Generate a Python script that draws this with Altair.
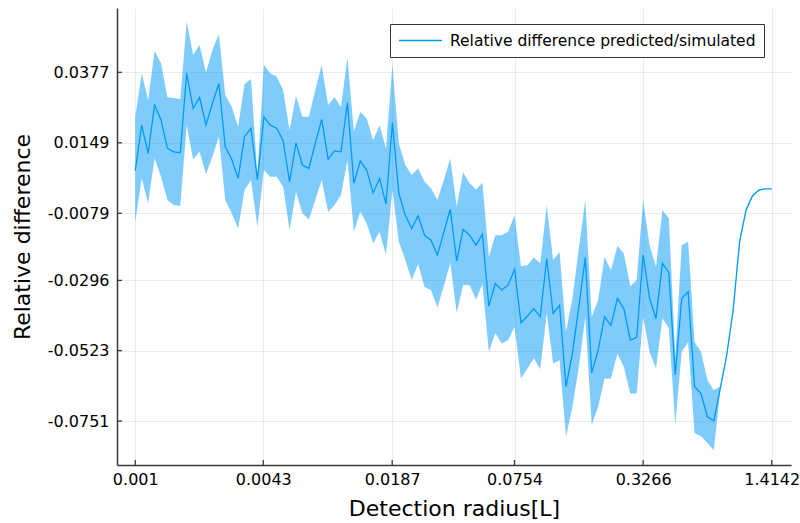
import altair as alt
import numpy as np
import pandas as pd

FONT = "DejaVu Sans"
BLUE = "#009AFA"
AXIS_COLOR = "#3a3a3a"
SERIES = "Relative difference predicted/simulated"

x_ticks = [0.001, 0.0043, 0.0187, 0.0754, 0.3266, 1.4142]
y_ticks = [0.0377, 0.0149, -0.0079, -0.0296, -0.0523, -0.0751]

mean = [
    0.0059, 0.0206, 0.0115, 0.0271, 0.0223, 0.0131, 0.0120, 0.0117, 0.0374, 0.0260,
    0.0296, 0.0206, 0.0277, 0.0341, 0.0136, 0.0096, 0.0034, 0.0169, 0.0196, 0.0029,
    0.0233, 0.0206, 0.0196, 0.0156, 0.0023, 0.0149, 0.0077, 0.0066, 0.0147, 0.0225,
    0.0096, 0.0123, 0.0120, 0.0279, 0.0018, 0.0090, 0.0061, -0.0013, 0.0034, -0.0049,
    0.0214, -0.0015, -0.0085, -0.0128, -0.0087, -0.0150, -0.0166, -0.0214, -0.0140, -0.0066,
    -0.0233, -0.0131, -0.0150, -0.0182, -0.0147, -0.0379, -0.0306, -0.0327, -0.0311, -0.0260,
    -0.0433, -0.0412, -0.0387, -0.0414, -0.0225, -0.0403, -0.0376, -0.0640, -0.0532, -0.0381,
    -0.0222, -0.0595, -0.0522, -0.0414, -0.0441, -0.0354, -0.0387, -0.0489, -0.0480, -0.0214,
    -0.0354, -0.0419, -0.0241, -0.0271, -0.0602, -0.0354, -0.0333, -0.0640, -0.0662, -0.0737,
    -0.0750, -0.0645, -0.0538, -0.0392, -0.0172, -0.0069, -0.0023, -0.0004, 0.0, 0.0,
]

upper = [
    0.0233, 0.0374, 0.0287, 0.0446, 0.0406, 0.0296, 0.0294, 0.0290, 0.0541, 0.0433,
    0.0465, 0.0376, 0.0449, 0.0501, 0.0304, 0.0266, 0.0201, 0.0339, 0.0355, 0.0045,
    0.0401, 0.0374, 0.0363, 0.0320, 0.0190, 0.0300, 0.0233, 0.0233, 0.0320, 0.0401,
    0.0271, 0.0296, 0.0266, 0.0426, 0.0185, 0.0249, 0.0228, 0.0158, 0.0206, 0.0131,
    0.0401, 0.0147, 0.0077, 0.0045, 0.0066, 0.0023, 0.0002, -0.0036, 0.0029, 0.0099,
    -0.0058, 0.0053, 0.0018, -0.0002, 0.0020, -0.0220, -0.0150, -0.0150, -0.0139, -0.0085,
    -0.0250, -0.0247, -0.0222, -0.0241, -0.0052, -0.0230, -0.0204, -0.0462, -0.0354, -0.0193,
    -0.0036, -0.0414, -0.0360, -0.0220, -0.0263, -0.0185, -0.0209, -0.0315, -0.0295, -0.0036,
    -0.0182, -0.0252, -0.0069, -0.0095, -0.0543, -0.0182, -0.0171, -0.0495, -0.0527, -0.0619,
    -0.0651, -0.0639, -0.0532, -0.0386, -0.0166, -0.0064, -0.0020, -0.0002, 0.0, 0.0,
]

lower = [
    -0.0106, 0.0034, -0.0047, 0.0099, 0.0039, -0.0036, -0.0052, -0.0055, 0.0206, 0.0095,
    0.0120, 0.0047, 0.0104, 0.0169, -0.0036, -0.0079, -0.0128, -0.0004, 0.0029, -0.0123,
    0.0061, 0.0039, 0.0039, 0.0007, -0.0133, -0.0009, -0.0079, -0.0099, -0.0036, 0.0029,
    -0.0074, -0.0052, -0.0020, 0.0093, -0.0139, -0.0074, -0.0112, -0.0176, -0.0139, -0.0214,
    -0.0004, -0.0171, -0.0230, -0.0295, -0.0243, -0.0317, -0.0327, -0.0384, -0.0314, -0.0239,
    -0.0401, -0.0311, -0.0311, -0.0358, -0.0308, -0.0527, -0.0466, -0.0500, -0.0489, -0.0446,
    -0.0613, -0.0581, -0.0548, -0.0583, -0.0403, -0.0565, -0.0554, -0.0802, -0.0705, -0.0576,
    -0.0414, -0.0764, -0.0705, -0.0613, -0.0613, -0.0532, -0.0576, -0.0662, -0.0662, -0.0414,
    -0.0527, -0.0581, -0.0419, -0.0451, -0.0764, -0.0527, -0.0495, -0.0790, -0.0800, -0.0822,
    -0.0845, -0.0651, -0.0544, -0.0398, -0.0178, -0.0074, -0.0026, -0.0006, 0.0, 0.0,
]

# detection radii: log-spaced grid from 0.001 to sqrt(2)
radius = np.geomspace(0.001, 1.4142, len(mean))

df = pd.DataFrame({
    "radius": radius,
    "mean": mean,
    "lower": lower,
    "upper": upper,
    "series": SERIES,
})
xt = pd.DataFrame({"v": x_ticks})
yt = pd.DataFrame({"v": y_ticks})

W, H = 674, 457
xscale = alt.Scale(type="log", domain=[0.000812, 1.762], nice=False)
yscale = alt.Scale(domain=[-0.0893, 0.0585], nice=False, zero=False)

xaxis = alt.Axis(
    values=x_ticks, format=".4~f", title="Detection radius[L]",
    ticks=False, tickSize=0, labelPadding=6, labelBaseline="top",
    titleY=43, titleBaseline="middle",
)
yaxis = alt.Axis(
    values=y_ticks, format=".4f", title="Relative difference",
    labelExpr="replace(datum.label, '\u2212', '-')",
    ticks=False, tickSize=0, labelPadding=8,
    titleX=-95, titleBaseline="middle",
)

band = alt.Chart(df).mark_area(color=BLUE, opacity=0.5, interpolate="linear").encode(
    x=alt.X("radius:Q", scale=xscale, axis=xaxis),
    y=alt.Y("lower:Q", scale=yscale, axis=yaxis),
    y2="upper:Q",
)

line = alt.Chart(df).mark_line(strokeWidth=1.3, interpolate="linear").encode(
    x=alt.X("radius:Q", scale=xscale, axis=xaxis),
    y=alt.Y("mean:Q", scale=yscale, axis=yaxis),
    color=alt.Color(
        "series:N",
        scale=alt.Scale(domain=[SERIES], range=[BLUE]),
        legend=alt.Legend(
            title=None, orient="none", legendX=273, legendY=16,
            symbolType="stroke", symbolSize=1849, symbolStrokeWidth=1.3,
            symbolOpacity=1, clipHeight=17,
            labelFont=FONT, labelFontSize=15.5, labelColor="#000000",
            labelOffset=7, labelLimit=500, padding=8,
            strokeColor="#333333", fillColor="white", cornerRadius=0,
        ),
    ),
)

ytick_marks = alt.Chart(yt).mark_rule(color=AXIS_COLOR, strokeWidth=1.3).encode(
    y=alt.Y("v:Q", scale=yscale, axis=yaxis),
    x=alt.value(0),
    x2=alt.value(5),
)
xtick_marks = alt.Chart(xt).mark_rule(color=AXIS_COLOR, strokeWidth=1.3).encode(
    x=alt.X("v:Q", scale=xscale, axis=xaxis),
    y=alt.value(H),
    y2=alt.value(H - 5),
)

chart = alt.layer(band, line, ytick_marks, xtick_marks).properties(
    width=W, height=H,
    autosize=alt.AutoSizeParams(type="none"),
    padding={"left": 117, "top": 8, "right": 9, "bottom": 58},
    background="white",
).configure_view(
    stroke=None,
).configure_axis(
    domainColor=AXIS_COLOR, domainWidth=1.5,
    grid=True, gridColor="#000000", gridOpacity=0.08, gridWidth=1,
    labelFont=FONT, labelFontSize=16, labelColor="#000000",
    titleFont=FONT, titleFontSize=22, titleFontWeight="normal", titleColor="#000000",
)

chart.save("out.html", embed_options={"renderer": "svg", "actions": False})
